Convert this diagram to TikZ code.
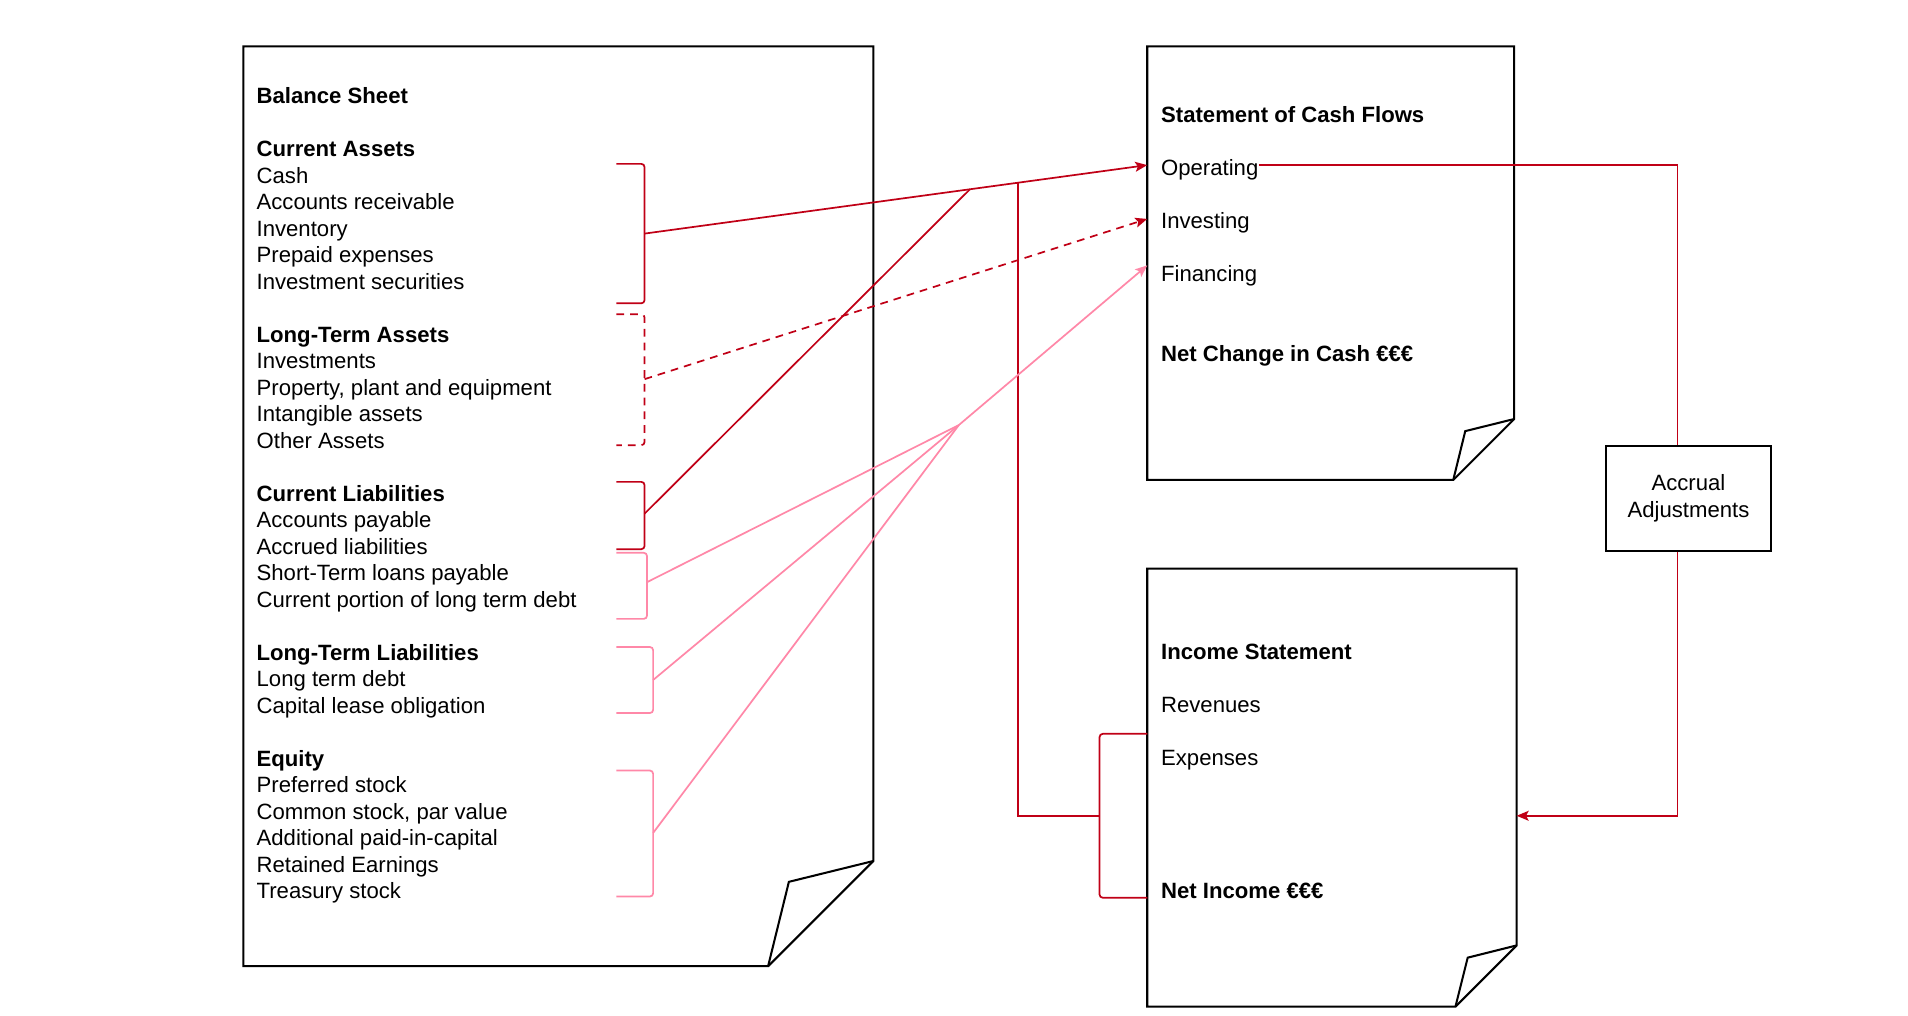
\documentclass[tikz,border=0pt]{standalone}
\usepackage{fontspec}
\setmainfont{Liberation Sans}
\usetikzlibrary{arrows.meta}

\definecolor{cashred}{RGB}{192,0,22}
\definecolor{cashpink}{RGB}{255,136,168}

\begin{document}
\begin{tikzpicture}[x=0.02cm,y=-0.02cm,font=\fontsize{10.3}{12.33}\selectfont,
		page/.style={draw=black,line width=0.95pt,line join=miter},
		bracket/.style={line width=0.8pt,rounded corners=1.5pt},
		link/.style={line width=0.8pt},
		tip/.style={-{Stealth[length=5.6pt,width=4.6pt,inset=1.2pt]}},
		item/.style={anchor=base west,inner sep=0pt}]
			\useasboundingbox (0,0) rectangle (1560,830);
			
			% Balance Sheet page
			\draw[page] (199,38) -- (714,38) -- (714,704) -- (628,790) -- (199,790) -- cycle;
			\draw[page] (714,704) -- (645,721) -- (628,790);
			\node[anchor=north west,inner sep=0pt,align=left] (BalanceSheet) at (209.5,71.5) {%
				\textbf{Balance Sheet}\\[12.33pt]
				\textbf{Current Assets}\\ Cash\\ Accounts receivable\\ Inventory\\ Prepaid expenses\\ Investment securities\\[12.33pt]
				\textbf{Long-Term Assets}\\ Investments\\ Property, plant and equipment\\ Intangible assets\\ Other Assets\\[12.33pt]
				\textbf{Current Liabilities}\\ Accounts payable\\ Accrued liabilities\\ Short-Term loans payable\\ Current portion of long term debt\\[12.33pt]
				\textbf{Long-Term Liabilities}\\ Long term debt\\ Capital lease obligation\\[12.33pt]
				\textbf{Equity}\\ Preferred stock\\ Common stock, par value\\ Additional paid-in-capital\\ Retained Earnings\\ Treasury stock};
			
			% Statement of Cash Flows page
			\draw[page] (938,38) -- (1238,38) -- (1238,342.6) -- (1188.2,392.4) -- (938,392.4) -- cycle;
			\draw[page] (1238,342.6) -- (1198,352.5) -- (1188.2,392.4);
			\node[item] (CashFlows) at (949,100.5) {\textbf{Statement of Cash Flows}};
			\node[item] (Operating) at (949,143.8) {Operating};
			\node[item] (Investing) at (949,187.1) {Investing};
			\node[item] (Financing) at (949,230.4) {Financing};
			\node[item] (NetCash) at (949,295.5) {\textbf{Net Change in Cash €€€}};
			
			% Income Statement page
			\draw[page] (938,465) -- (1240,465) -- (1240,773) -- (1190,823) -- (938,823) -- cycle;
			\draw[page] (1240,773) -- (1200,783) -- (1190,823);
			\node[item] (IncomeStatement) at (949,539.5) {\textbf{Income Statement}};
			\node[item] (Revenues) at (949,582.8) {Revenues};
			\node[item] (Expenses) at (949,626.1) {Expenses};
			\node[item] (NetIncome) at (949,734.4) {\textbf{Net Income €€€}};
			
			\node[draw,line width=0.95pt,minimum width=2.706cm,minimum height=1.714cm,align=center] (Accrual) at (1380.5,407.4) {Accrual\\Adjustments};
			
			% brackets
			\draw[bracket,cashred] (504,134) -- (527,134) -- (527,248) -- (504,248);
			\draw[bracket,cashred,dash pattern=on 3.6pt off 2.8pt] (504,257) -- (527,257) -- (527,364) -- (504,364);
			\draw[bracket,cashred] (504,394) -- (527,394) -- (527,449) -- (504,449);
			\draw[bracket,cashpink] (504,452) -- (529,452) -- (529,506) -- (504,506);
			\draw[bracket,cashpink] (504,529) -- (534,529) -- (534,583) -- (504,583);
			\draw[bracket,cashpink] (504,630) -- (534,630) -- (534,733) -- (504,733);
			\draw[bracket,cashred] (938,600) -- (899,600) -- (899,734) -- (938,734);
			
			\coordinate (CurAssets) at (527,191);
			\coordinate (LongAssets) at (527,310);
			\coordinate (CurLiab) at (527,420);
			\coordinate (ShortLoans) at (529,476);
			\coordinate (LongLiab) at (534,556);
			\coordinate (EquityB) at (534,681);
			\coordinate (IncomeB) at (899,667);
			\coordinate (OpIn) at (938,135);
			\coordinate (InvIn) at (938,179);
			\coordinate (FinIn) at (938,217);
			\coordinate (IncIn) at (1240,667);
			\coordinate (JoinLiab) at (793,154.8);
			\coordinate (JoinInc) at (832.5,149.4);
			\coordinate (JoinFin) at (784,347.5);
			
			% connectors
			\draw[link,cashred,tip] (CurAssets) to (OpIn);
			\draw[link,cashred,dash pattern=on 3.6pt off 2.8pt,tip] (LongAssets) to (InvIn);
			\draw[link,cashred] (CurLiab) to (JoinLiab);
			\draw[link,cashred] (JoinInc) |- (IncomeB);
			\draw[link,cashpink] (ShortLoans) to (JoinFin);
			\draw[link,cashpink] (LongLiab) to (JoinFin);
			\draw[link,cashpink] (EquityB) to (JoinFin);
			\draw[link,cashpink,tip] (JoinFin) to (FinIn);
			\draw[link,cashred] (Operating.east |- OpIn) -| ([xshift=-0.18cm]Accrual.north);
			\draw[link,cashred,tip] ([xshift=-0.18cm]Accrual.south) |- (IncIn);
			
\end{tikzpicture}
\end{document}
